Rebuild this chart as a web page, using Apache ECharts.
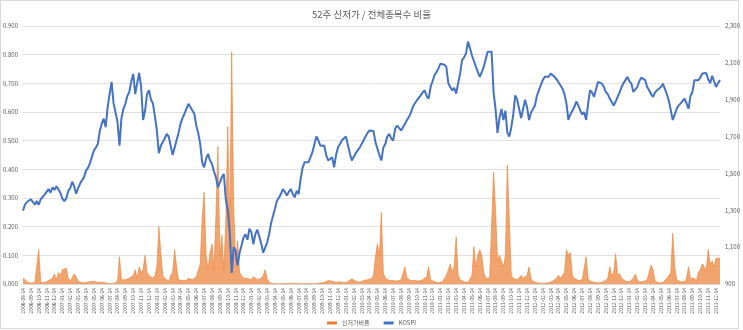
<!DOCTYPE html>
<html>
<head>
<meta charset="utf-8">
<script src="https://cdn.jsdelivr.net/npm/echarts@6/dist/echarts.min.js"></script>
<style>
html,body{margin:0;padding:0;background:#fff;}
#chart{width:743px;height:330px;}
</style>
</head>
<body>
<div id="chart"></div>
<script>
// Sampling: weekly points on days 07/14/21/28 of each month, 2006-08-14 .. 2013-12-28
const years = [2006, 2007, 2008, 2009, 2010, 2011, 2012, 2013];
const sampleDays = ['07', '14', '21', '28'];
const firstDate = '2006-08-14';
const lastDate = '2013-12-28';

// KOSPI (right axis)
const kospi2006 = [1298,1330,1345, 1335,1360,1345,1330, 1350,1330,1360,1370, 1385,1400,1415,1395, 1425,1410,1430,1434];
const kospi2007 = [1395,1363,1350,1365, 1405,1420,1455,1430, 1390,1420,1445,1450, 1480,1515,1530,1555,
                   1590,1624,1640,1660, 1730,1770,1797,1751, 1860,1930,1997,1880, 1880,1780,1650,1800,
                   1850,1878,1920,1942, 2000,2040,1930,1990, 2045,1970,1790,1840, 1930,1951,1900,1880];
const kospi2008 = [1810,1733,1610,1650, 1670,1690,1715,1700, 1650,1600,1640,1680, 1720,1769,1800,1824,
                   1850,1878,1860,1842, 1824,1760,1720,1660, 1560,1533,1580,1606, 1570,1551,1510,1479,
                   1424,1450,1480,1497, 1360,1300,1180,960, 1100,1080,1000,1070, 1110,1152,1170,1140];
const kospi2009 = [1200,1180,1116,1170, 1195,1200,1120,1070, 1065,1125,1170,1230, 1270,1310,1352,1370,
                   1388,1415,1400,1380, 1400,1415,1390,1370, 1406,1388,1470,1530, 1560,1570,1560,1588,
                   1615,1624,1700,1680, 1650,1642,1651,1600, 1570,1580,1588,1533, 1600,1642,1660,1680];
const kospi2010 = [1690,1700,1706,1610, 1570,1590,1610,1620, 1640,1660,1680,1700, 1720,1733,1742,1730,
                   1670,1660,1600,1570, 1640,1660,1700,1715, 1690,1678,1742,1760, 1769,1733,1750,1769,
                   1790,1806,1830,1860, 1880,1896,1910,1924, 1940,1951,1920,1906, 1969,2000,2033,2050];
const kospi2011 = [2070,2096,2105,2090, 2078,1990,1969,1950, 1965,1933,1990,2040, 2115,2130,2151,2215,
                   2180,2140,2110,2080, 2051,2024,2050,2078, 2120,2160,2151,2160, 1940,1850,1720,1800,
                   1850,1790,1840,1720, 1700,1751,1820,1924, 1900,1896,1800,1850, 1900,1860,1790,1830];
const kospi2012 = [1840,1869,1920,1951, 1980,2006,2024,2020, 2024,2042,2035,2024, 2010,1995,1987,1960,
                   1930,1880,1790,1820, 1840,1860,1890,1870, 1842,1820,1833,1790, 1878,1951,1940,1915,
                   1915,1996,2000,1987, 1970,1942,1930,1906, 1910,1869,1890,1915, 1940,1969,1990,1996];
const kospi2013 = [2024,2000,1987,1942, 1950,1969,2000,2020, 2020,2006,1969,1951, 1930,1915,1940,1951,
                   1960,1969,1987,1996, 1930,1896,1842,1790, 1820,1851,1869,1880, 1890,1906,1880,1851,
                   1920,1942,2006,2000, 2006,2020,2042,2045, 2045,2010,1990,2030, 2000,1969,1990,2006];

// 52-week new-low ratio (left axis)
const ratio2006 = [0.022,0.018,0.008, 0.004,0.003,0.006,0.005, 0.006,0.12,0.005,0.004, 0.005,0.008,0.012,0.01, 0.02,0.035,0.015,0.04];
const ratio2007 = [0.03,0.05,0.045,0.055, 0.02,0.01,0.015,0.035, 0.025,0.01,0.005,0.004, 0.003,0.005,0.004,0.008,
                   0.006,0.01,0.008,0.005, 0.004,0.006,0.005,0.004, 0.002,0.001,0.001,0.002, 0.003,0.01,0.095,0.015,
                   0.01,0.015,0.012,0.02, 0.02,0.03,0.05,0.02, 0.06,0.04,0.05,0.1, 0.04,0.03,0.025,0.02];
const ratio2008 = [0.03,0.06,0.2,0.11, 0.03,0.02,0.015,0.01, 0.03,0.04,0.12,0.06, 0.015,0.01,0.012,0.01,
                   0.012,0.02,0.025,0.015, 0.02,0.025,0.03,0.07, 0.23,0.32,0.1,0.05, 0.11,0.14,0.05,0.24,
                   0.48,0.1,0.17,0.05, 0.22,0.55,0.2,0.81, 0.27,0.08,0.15,0.04, 0.03,0.02,0.025,0.02];
const ratio2009 = [0.02,0.015,0.025,0.02, 0.015,0.01,0.02,0.03, 0.05,0.02,0.005,0.003, 0.002,0.001,0.001,0.001,
                   0.001,0.001,0.002,0.001, 0.002,0.001,0.003,0.002, 0.002,0.003,0.001,0.001, 0.001,0.001,0.002,0.001,
                   0.001,0.002,0.001,0.002, 0.004,0.006,0.005,0.01, 0.012,0.015,0.01,0.014, 0.006,0.005,0.008,0.004];
const ratio2010 = [0.004,0.006,0.008,0.012, 0.018,0.012,0.01,0.008, 0.006,0.01,0.012,0.015, 0.015,0.02,0.018,0.03,
                   0.095,0.14,0.1,0.25, 0.04,0.02,0.015,0.012, 0.01,0.012,0.008,0.01, 0.012,0.015,0.02,0.06,
                   0.02,0.015,0.012,0.01, 0.012,0.015,0.01,0.014, 0.015,0.02,0.025,0.06, 0.015,0.01,0.008,0.006];
const ratio2011 = [0.005,0.006,0.008,0.012, 0.03,0.05,0.07,0.04, 0.06,0.165,0.03,0.015, 0.01,0.008,0.006,0.005,
                   0.01,0.03,0.13,0.06, 0.1,0.12,0.1,0.04, 0.02,0.015,0.02,0.025, 0.39,0.26,0.08,0.1,
                   0.08,0.06,0.1,0.415, 0.22,0.03,0.02,0.015, 0.015,0.02,0.03,0.02, 0.02,0.03,0.06,0.02];
const ratio2012 = [0.01,0.005,0.004,0.003, 0.003,0.002,0.003,0.004, 0.004,0.006,0.01,0.015, 0.02,0.03,0.02,0.025,
                   0.04,0.12,0.1,0.11, 0.03,0.02,0.015,0.012, 0.01,0.015,0.02,0.095, 0.02,0.01,0.008,0.006,
                   0.005,0.004,0.005,0.006, 0.008,0.012,0.02,0.06, 0.03,0.04,0.105,0.03, 0.037,0.02,0.015,0.01];
const ratio2013 = [0.01,0.008,0.012,0.02, 0.035,0.015,0.008,0.01, 0.008,0.01,0.015,0.02, 0.066,0.05,0.01,0.005,
                   0.004,0.003,0.005,0.004, 0.02,0.025,0.04,0.177, 0.06,0.015,0.01,0.008, 0.01,0.008,0.02,0.06,
                   0.02,0.015,0.02,0.01, 0.04,0.05,0.07,0.06, 0.05,0.12,0.07,0.08, 0.06,0.09,0.085,0.09];

const leftTicks = {min: 0, max: 0.9, interval: 0.1};
const rightTicks = {min: 900, max: 2300, interval: 200};

const categories = [];
years.forEach(function (y) {
  for (let m = 1; m <= 12; m++) {
    const mm = (m < 10 ? '0' : '') + m;
    sampleDays.forEach(function (d) {
      const s = y + '-' + mm + '-' + d;
      if (s >= firstDate && s <= lastDate) categories.push(s);
    });
  }
});
const kospi = [].concat(kospi2006, kospi2007, kospi2008, kospi2009, kospi2010, kospi2011, kospi2012, kospi2013);
const ratio = [].concat(ratio2006, ratio2007, ratio2008, ratio2009, ratio2010, ratio2011, ratio2012, ratio2013);

const chart = echarts.init(document.getElementById('chart'), null, {renderer: 'canvas'});
const txt = '#595959';
const font = 'Noto Sans CJK KR, Noto Sans, sans-serif';
chart.setOption({
  animation: false,
  backgroundColor: '#fff',
  textStyle: {fontFamily: font},
  graphic: [{
    type: 'rect', silent: true,
    shape: {x: 0.5, y: 0.5, width: 738, height: 328},
    style: {fill: 'none', stroke: '#d9d9d9', lineWidth: 1}
  }],
  title: {
    text: '52주 신저가 / 전체종목수 비율',
    left: 'center', top: 5,
    textStyle: {fontSize: 9.5, fontWeight: 'normal', color: txt, fontFamily: font}
  },
  legend: {
    top: 315, left: 'center',
    itemWidth: 10, itemHeight: 3, itemGap: 14,
    textStyle: {fontSize: 6, color: txt, fontFamily: font},
    data: [
      {name: '신저가비율', icon: 'rect'},
      {name: 'KOSPI', icon: 'rect'}
    ]
  },
  grid: {left: 22, right: 21, top: 26, bottom: 46, containLabel: false},
  xAxis: {
    type: 'category',
    data: categories,
    boundaryGap: false,
    axisLine: {show: true, lineStyle: {color: '#d9d9d9', width: 1}},
    axisTick: {show: false},
    axisLabel: {
      rotate: 90, fontSize: 5, color: txt, margin: 4,
      interval: function (i, v) { return v.slice(8) === '14'; }
    },
    splitLine: {show: false}
  },
  yAxis: [{
    type: 'value', position: 'left',
    min: leftTicks.min, max: leftTicks.max, interval: leftTicks.interval,
    axisLine: {show: false}, axisTick: {show: false},
    axisLabel: {fontSize: 6, color: txt, margin: 5, formatter: function (v) { return v.toFixed(3); }},
    splitLine: {lineStyle: {color: '#d9d9d9', width: 0.8}}
  }, {
    type: 'value', position: 'right',
    min: rightTicks.min, max: rightTicks.max, interval: rightTicks.interval,
    axisLine: {show: false}, axisTick: {show: false},
    axisLabel: {fontSize: 6, color: txt, margin: 5, formatter: function (v) { return v.toLocaleString('en-US'); }},
    splitLine: {show: false}
  }],
  series: [{
    name: '신저가비율',
    type: 'line',
    yAxisIndex: 0,
    data: ratio,
    symbol: 'none',
    itemStyle: {color: '#ED7D31'},
    lineStyle: {color: '#ED7D31', width: 0.6},
    areaStyle: {color: '#ED7D31', opacity: 0.7},
    z: 2
  }, {
    name: 'KOSPI',
    type: 'line',
    yAxisIndex: 1,
    data: kospi,
    symbol: 'none',
    itemStyle: {color: '#4472C4'},
    lineStyle: {color: '#4472C4', width: 2},
    z: 3
  }]
});
</script>
</body>
</html>
